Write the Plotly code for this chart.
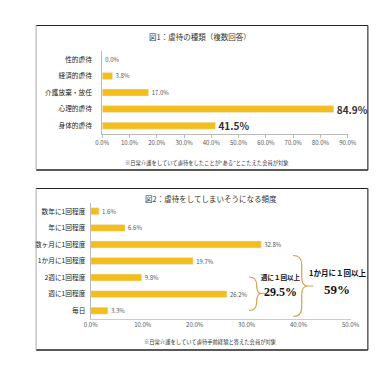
import plotly.graph_objects as go

W, H = 389, 366

# ---- data ----
cat1 = ["性的虐待", "経済的虐待", "介護放棄・放任", "心理的虐待", "身体的虐待"]
val1 = [0.0, 3.8, 17.0, 84.9, 41.5]
big1 = [False, False, False, True, True]
ticks1 = [0, 10, 20, 30, 40, 50, 60, 70, 80, 90]

cat2 = ["数年に1回程度", "年に1回程度", "数ヶ月に1回程度", "1か月に1回程度", "2週に1回程度", "週に1回程度", "毎日"]
val2 = [1.6, 6.6, 32.8, 19.7, 9.8, 26.2, 3.3]
ticks2 = [0, 10, 20, 30, 40, 50]

title1 = "図1：虐待の種類（複数回答）"
title2 = "図2：虐待をしてしまいそうになる頻度"
note1 = "※日常介護をしていて虐待をしたことが\u201cある\u201dとこたえた会員が対象"
note2 = "※日常介護をしていて虐待手前経験と答えた会員が対象"
weekly_label = "週に１回以上"
monthly_label = "1か月に１回以上"
weekly_val = "29.5%"
monthly_val = "59%"

JP = "Noto Sans CJK JP"
BAR = "#F3BE1C"


def px(x):
    return x / W


def py(y):
    return 1 - y / H


fig = go.Figure()

txt1 = [f"<b>{v:.1f}%</b>" if b else f"{v:.1f}%" for v, b in zip(val1, big1)]
fig.add_trace(go.Bar(
    x=val1, y=cat1, orientation="h", marker_color=BAR,
    text=txt1, textposition="outside", cliponaxis=False, constraintext="none",
    textfont=dict(family=JP, size=[6 if not b else 10 for b in big1],
                  color=["#555" if not b else "#333" for b in big1]),
    xaxis="x", yaxis="y", hoverinfo="skip"))

fig.add_trace(go.Bar(
    x=val2, y=cat2, orientation="h", marker_color=BAR,
    text=[f"{v:.1f}%" for v in val2], textposition="outside", cliponaxis=False,
    constraintext="none",
    textfont=dict(family=JP, size=6, color="#555"),
    xaxis="x2", yaxis="y2", hoverinfo="skip"))

axfont = dict(family=JP, size=6, color="#555")
catfont = dict(family=JP, size=6.7, color="#222")

fig.update_layout(
    width=W, height=H, margin=dict(l=0, r=0, t=0, b=0),
    paper_bgcolor="white", plot_bgcolor="white", showlegend=False,
    bargap=0.58,
    xaxis=dict(domain=[px(91), px(347)], range=[0, 90], tickvals=ticks1,
               ticktext=[f"{t:.1f}%" for t in ticks1], tickfont=axfont,
               showline=True, linecolor="#bbb", ticks="outside", ticklen=3,
               tickcolor="#bbb", showgrid=False, zeroline=False, anchor="y",
               fixedrange=True),
    yaxis=dict(domain=[py(126), py(43)], autorange="reversed", type="category",
               tickfont=catfont, showline=True, linecolor="#bbb", ticks="",
               ticklabelstandoff=8, showgrid=False, anchor="x", fixedrange=True),
    xaxis2=dict(domain=[px(79), px(350)], range=[0, 50], tickvals=ticks2,
                ticktext=[f"{t:.1f}%" for t in ticks2], tickfont=axfont,
                showline=True, linecolor="#ccc", ticks="", showgrid=False,
                zeroline=False, anchor="y2", fixedrange=True),
    yaxis2=dict(domain=[py(311), py(195)], autorange="reversed", type="category",
                tickfont=catfont, showline=True, linecolor="#bbb", ticks="",
                ticklabelstandoff=3, showgrid=False, anchor="x2", fixedrange=True),
)

shapes = []


def line(x0, y0, x1, y1, color, w=1):
    shapes.append(dict(type="line", xref="paper", yref="paper",
                       x0=px(x0), y0=py(y0), x1=px(x1), y1=py(y1),
                       line=dict(color=color, width=w)))


def box(x0, y0, x1, y1):
    line(x0, y0, x1, y0, "#222", 1)
    line(x1, y0, x1, y1, "#333", 1.2)
    line(x0, y1, x1, y1, "#222", 1.5)
    line(x0, y0, x0, y1, "#aaa", 1)


box(22, 17.5, 368, 162)
box(22, 180.5, 368, 342)


def brace(xl, xm, xt, ytop, ymid, ybot, xend):
    r = (xm - xl)
    P = lambda x, y: f"{px(x):.5f},{py(y):.5f}"
    d = (f"M {P(xl, ytop)} Q {P(xm, ytop)} {P(xm, ytop + r)} "
         f"L {P(xm, ymid - r)} Q {P(xm, ymid)} {P(xt, ymid)} "
         f"Q {P(xm, ymid)} {P(xm, ymid + r)} "
         f"L {P(xm, ybot - r)} Q {P(xm, ybot)} {P(xl, ybot)} "
         f"M {P(xt, ymid)} L {P(xend, ymid)}")
    shapes.append(dict(type="path", xref="paper", yref="paper", path=d,
                       line=dict(color="#D9A050", width=1.2)))


brace(244, 252, 257, 269, 285.5, 302.5, 262)
brace(290, 299, 305, 247.5, 278, 308.5, 311)

fig.update_layout(shapes=shapes)

ann = []


def text(x, y, s, size, color="#222", family=JP):
    ann.append(dict(xref="paper", yref="paper", x=px(x), y=py(y), text=s,
                    showarrow=False, xanchor="center", yanchor="middle",
                    font=dict(family=family, size=size, color=color)))


text(193, 29, title1, 7.5, "#333")
text(204, 190, title2, 7.5, "#333")
text(200, 155, note1, 5.3, "#333")
text(204, 334, note2, 5.3, "#333")
text(277, 268.5, "<b>" + weekly_label + "</b>", 6.5, "#111")
text(277, 284, "<b>" + weekly_val + "</b>", 12, "#111", "Liberation Serif")
text(336, 264, "<b>" + monthly_label + "</b>", 7.5, "#111")
text(336, 281, "<b>" + monthly_val + "</b>", 13, "#111", "Liberation Serif")
fig.update_layout(annotations=ann)

fig.write_html("out.html")
